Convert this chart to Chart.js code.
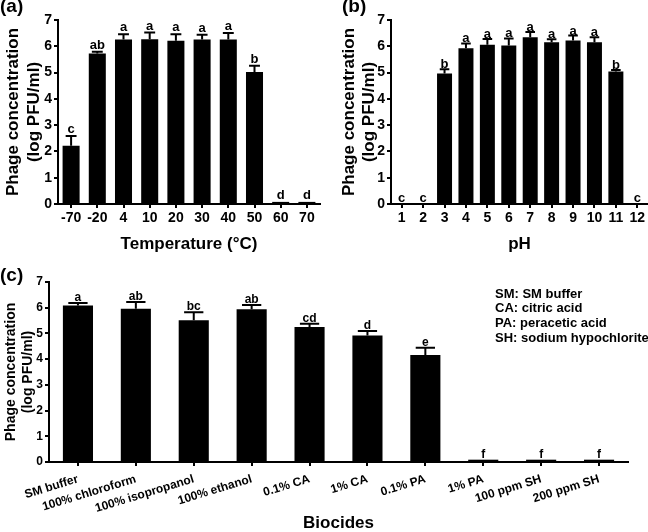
<!DOCTYPE html>
<html>
<head>
<meta charset="utf-8">
<script src="https://cdn.jsdelivr.net/npm/chart.js@4/dist/chart.umd.min.js"></script>
<style>
  body { margin: 0; background: #fff; }
  #wrap { position: relative; width: 648px; height: 532px; overflow: hidden; }
  canvas { position: absolute; }
</style>
</head>
<body>
<div id="wrap">
  <canvas id="chartA" width="324" height="255" style="left:0;top:0"></canvas>
  <canvas id="chartB" width="324" height="255" style="left:324px;top:0"></canvas>
  <canvas id="chartC" width="648" height="270" style="left:0;top:262px"></canvas>
</div>
<script>
// (a) temperature
const tempLabels = ['-70', '-20', '4', '10', '20', '30', '40', '50', '60', '70'];
const tempValues = [2.22, 5.73, 6.26, 6.27, 6.21, 6.26, 6.26, 5.02, 0.08, 0.08];
const tempErrors = [0.37, 0.06, 0.2, 0.25, 0.25, 0.18, 0.25, 0.24, 0, 0];
const tempLetters = ['c', 'ab', 'a', 'a', 'a', 'a', 'a', 'b', 'd', 'd'];

// (b) pH
const phLabels = ['1', '2', '3', '4', '5', '6', '7', '8', '9', '10', '11', '12'];
const phValues = [0.03, 0.03, 4.96, 5.93, 6.06, 6.03, 6.34, 6.15, 6.22, 6.15, 5.04, 0.03];
const phErrors = [0, 0, 0.17, 0.18, 0.22, 0.27, 0.2, 0.12, 0.19, 0.19, 0.06, 0];
const phLetters = ['c', 'c', 'b', 'a', 'a', 'a', 'a', 'a', 'a', 'a', 'b', 'c'];

// (c) biocides
const biocideLabels = ['SM buffer', '100% chloroform', '100% isopropanol', '100% ethanol', '0.1% CA',
  '1% CA', '0.1% PA', '1% PA', '100 ppm SH', '200 ppm SH'];
const biocideValues = [6.09, 5.96, 5.51, 5.94, 5.25, 4.92, 4.16, 0.09, 0.09, 0.09];
const biocideErrors = [0.09, 0.26, 0.31, 0.17, 0.13, 0.17, 0.28, 0, 0, 0];
const biocideLetters = ['a', 'ab', 'bc', 'ab', 'cd', 'd', 'e', 'f', 'f', 'f'];
const abbreviations = ['SM: SM buffer', 'CA: citric acid', 'PA: peracetic acid', 'SH: sodium hypochlorite'];

const FONT = '"Liberation Sans", Arial, sans-serif';

// error bars, significance letters, panel tag and notes
const annotate = {
  id: 'annotate',
  afterDatasetsDraw(chart, args, opts) {
    const { ctx, scales: { y } } = chart;
    const meta = chart.getDatasetMeta(0);
    ctx.save();
    ctx.fillStyle = '#000';
    ctx.strokeStyle = '#000';
    ctx.lineWidth = 2;
    meta.data.forEach((bar, i) => {
      const v = opts.values[i], e = opts.errors[i];
      const top = y.getPixelForValue(v + e);
      const half = bar.width * 0.32;
      if (e > 0) {
        ctx.beginPath();
        ctx.moveTo(bar.x, bar.y);
        ctx.lineTo(bar.x, top);
        ctx.moveTo(bar.x - half, top);
        ctx.lineTo(bar.x + half, top);
        ctx.stroke();
      }
      ctx.font = 'bold ' + opts.letterSize + 'px ' + FONT;
      ctx.textAlign = 'center';
      ctx.textBaseline = 'alphabetic';
      ctx.fillText(opts.letters[i], bar.x, Math.min(top, bar.y) - opts.gap);
    });
    ctx.font = 'bold 19px ' + FONT;
    ctx.textAlign = 'left';
    ctx.fillText(opts.tag, opts.tagX, opts.tagY);
    if (opts.notes) {
      ctx.font = 'bold 13px ' + FONT;
      ctx.textBaseline = 'middle';
      opts.notes.forEach((t, i) => ctx.fillText(t, opts.notesX, opts.notesY + i * 14.8));
    }
    ctx.restore();
  }
};

const makeChart = (id, p) => {
  return new Chart(document.getElementById(id), {
    type: 'bar',
    data: {
      labels: p.labels,
      datasets: [{
        data: p.values,
        backgroundColor: '#000',
        borderWidth: 0,
        barPercentage: p.barPct,
        categoryPercentage: 1
      }]
    },
    options: {
      responsive: false,
      animation: false,
      layout: { padding: p.padding },
      plugins: {
        legend: { display: false },
        tooltip: { enabled: false },
        annotate: p.annot
      },
      scales: {
        x: {
          offset: true,
          afterFit: s => { s.height = p.xHeight; },
          grid: { offset: false, drawOnChartArea: false, drawTicks: true, tickLength: 4, color: '#000', lineWidth: 2 },
          border: { display: true, color: '#000', width: 2 },
          ticks: {
            color: '#000', padding: p.xTickPad, autoSkip: false,
            minRotation: p.rotation, maxRotation: p.rotation,
            font: { family: FONT, weight: 'bold', size: p.xTickSize }
          },
          title: {
            display: true, text: p.xTitle, color: '#000', padding: { top: 0, bottom: p.xTitlePad },
            font: { family: FONT, weight: 'bold', size: 17 }
          }
        },
        y: {
          min: 0, max: 7,
          afterFit: s => { s.width = p.yWidth; },
          grid: { drawOnChartArea: false, drawTicks: true, tickLength: 4, color: '#000', lineWidth: 2 },
          border: { display: true, color: '#000', width: 2 },
          ticks: {
            stepSize: 1, color: '#000', padding: 2,
            font: { family: FONT, weight: 'bold', size: p.yTickSize }
          },
          title: {
            display: true, text: ['Phage concentration', '(log PFU/ml)'], color: '#000',
            padding: { top: p.yTitlePad, bottom: 0 },
            font: { family: FONT, weight: 'bold', size: p.yTitleSize, lineHeight: p.yTitleLH }
          }
        }
      }
    },
    plugins: [annotate]
  });
};

makeChart('chartA', {
  labels: tempLabels, values: tempValues, barPct: 0.65,
  padding: { left: 0, top: 20, right: 4, bottom: 0 },
  xHeight: 51, yWidth: 58, rotation: 0, xTickSize: 14, yTickSize: 14, xTickPad: 2,
  xTitle: 'Temperature (°C)', xTitlePad: 0,
  yTitlePad: 2.5, yTitleSize: 17, yTitleLH: 1.25,
  annot: { values: tempValues, errors: tempErrors, letters: tempLetters, letterSize: 13, gap: 3,
    tag: '(a)', tagX: 0, tagY: 12 }
});

makeChart('chartB', {
  labels: phLabels, values: phValues, barPct: 0.7,
  padding: { left: 0, top: 20, right: 0, bottom: 0 },
  xHeight: 51, yWidth: 67, rotation: 0, xTickSize: 14, yTickSize: 14, xTickPad: 2,
  xTitle: 'pH', xTitlePad: 0,
  yTitlePad: 16, yTitleSize: 17, yTitleLH: 1.15,
  annot: { values: phValues, errors: phErrors, letters: phLetters, letterSize: 13, gap: 1,
    tag: '(b)', tagX: 18, tagY: 12 }
});

makeChart('chartC', {
  labels: biocideLabels, values: biocideValues, barPct: 0.52,
  padding: { left: 0, top: 20, right: 20, bottom: 0 },
  xHeight: 70, yWidth: 49, rotation: 17, xTickSize: 12, yTickSize: 12, xTickPad: 6,
  xTitle: 'Biocides', xTitlePad: -2,
  yTitlePad: 2.6, yTitleSize: 14, yTitleLH: 1.2,
  annot: { values: biocideValues, errors: biocideErrors, letters: biocideLetters, letterSize: 12, gap: 2,
    tag: '(c)', tagX: 0, tagY: 19,
    notes: abbreviations, notesX: 495, notesY: 32 }
});
</script>
</body>
</html>
